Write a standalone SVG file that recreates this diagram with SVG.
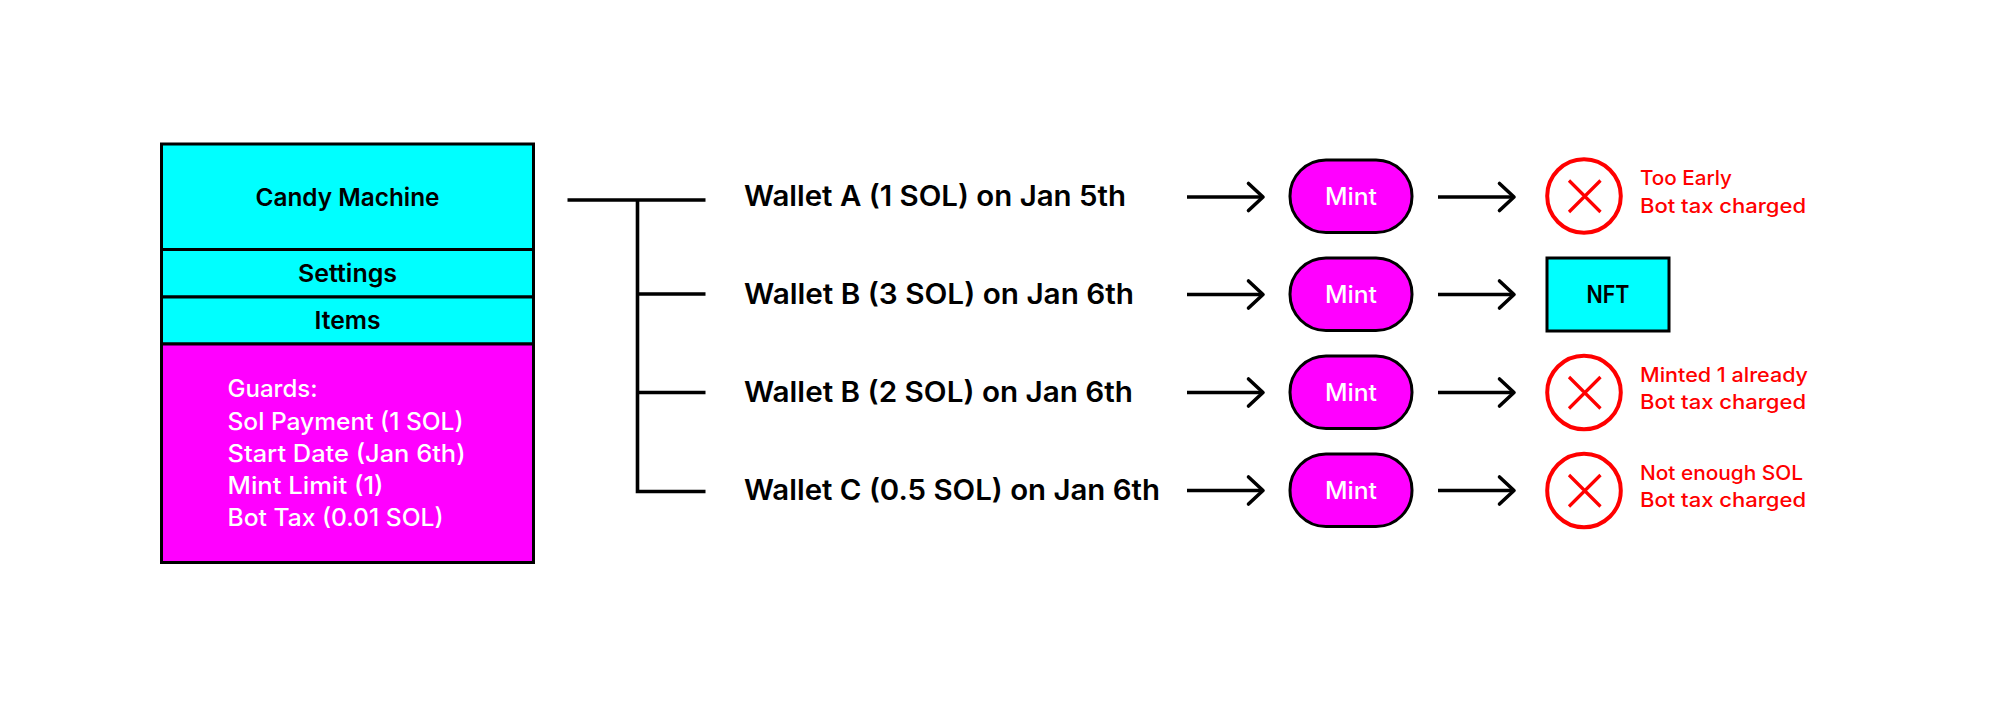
<svg xmlns="http://www.w3.org/2000/svg" width="1999" height="709" viewBox="0 0 1999 709">
<defs>
<marker id="open" markerUnits="userSpaceOnUse" markerWidth="22" markerHeight="32" refX="17" refY="16" orient="auto" overflow="visible"><path d="M2.500 2.500L17 16L2.500 29.500" fill="none" stroke="#000" stroke-width="3.600" stroke-linecap="round" stroke-linejoin="round"/></marker>
</defs>
<style>
text{font-family:"Inter","Liberation Sans",sans-serif;font-weight:500}
.box{stroke:#000;stroke-width:3}
.c{fill:#0ff}.m{fill:#f0f}
.k{fill:#000;font-weight:600}.w{fill:#fff}.r{fill:#f00}
.mid{text-anchor:middle}
.t24{font-size:24.500px}.t23{font-size:24px}.t27{font-size:28px}.t19{font-size:20px}
.line{fill:none;stroke:#000;stroke-width:3.600}
.arrow{fill:none;stroke:#000;stroke-width:3.600;marker-end:url(#open)}
.pill{fill:#f0f;stroke:#000;stroke-width:3}
.circ{fill:#fff;stroke:#f00;stroke-width:4}
.x{fill:none;stroke:#f00;stroke-width:3.200}
</style>
<rect width="1999" height="709" fill="#fff"/>
<g id="candy-machine">
<rect class="box c" x="161.500" y="144" width="372" height="105.500"/>
<rect class="box c" x="161.500" y="249.500" width="372" height="47.500"/>
<rect class="box c" x="161.500" y="297" width="372" height="47"/>
<rect class="box m" x="161.500" y="344" width="372" height="218.500"/>
<text class="k mid t24" x="347.500" y="205.500" textLength="184" lengthAdjust="spacingAndGlyphs">Candy Machine</text>
<text class="k mid t24" x="347.500" y="282" textLength="99" lengthAdjust="spacingAndGlyphs">Settings</text>
<text class="k mid t24" x="347.500" y="329" textLength="66" lengthAdjust="spacingAndGlyphs">Items</text>
<text class="w t23" x="227.500" y="396.500" textLength="90" lengthAdjust="spacingAndGlyphs">Guards:</text>
<text class="w t23" x="227.500" y="429.500" textLength="236" lengthAdjust="spacingAndGlyphs">Sol Payment (1 SOL)</text>
<text class="w t23" x="227.500" y="461.500" textLength="238" lengthAdjust="spacingAndGlyphs">Start Date (Jan 6th)</text>
<text class="w t23" x="227.500" y="494" textLength="156" lengthAdjust="spacingAndGlyphs">Mint Limit (1)</text>
<text class="w t23" x="227.500" y="526" textLength="216" lengthAdjust="spacingAndGlyphs">Bot Tax (0.01 SOL)</text>
</g>
<g id="connectors">
<path class="line" d="M567.500 200H705.500M637.500 200V491.500H705.500M637.500 294H705.500M637.500 392.500H705.500"/>
<path class="arrow" d="M1187 197H1263"/>
<path class="arrow" d="M1187 294.500H1263"/>
<path class="arrow" d="M1187 392.500H1263"/>
<path class="arrow" d="M1187 490.500H1263"/>
<path class="arrow" d="M1438 197H1514"/>
<path class="arrow" d="M1438 294.500H1514"/>
<path class="arrow" d="M1438 392.500H1514"/>
<path class="arrow" d="M1438 490.500H1514"/>
</g>
<g id="wallet-a"><text class="k t27" x="744" y="206" textLength="382" lengthAdjust="spacingAndGlyphs">Wallet A (1 SOL) on Jan 5th</text></g>
<g id="wallet-b3"><text class="k t27" x="744" y="304" textLength="390" lengthAdjust="spacingAndGlyphs">Wallet B (3 SOL) on Jan 6th</text></g>
<g id="wallet-b2"><text class="k t27" x="744" y="402" textLength="389" lengthAdjust="spacingAndGlyphs">Wallet B (2 SOL) on Jan 6th</text></g>
<g id="wallet-c"><text class="k t27" x="744" y="500" textLength="416" lengthAdjust="spacingAndGlyphs">Wallet C (0.5 SOL) on Jan 6th</text></g>
<g id="mint-1"><rect class="pill" x="1290" y="160" width="122" height="72.500" rx="36"/><text class="w mid t23" x="1351" y="204.500" textLength="52" lengthAdjust="spacingAndGlyphs">Mint</text></g>
<g id="mint-2"><rect class="pill" x="1290" y="258" width="122" height="72.500" rx="36"/><text class="w mid t23" x="1351" y="302.500" textLength="52" lengthAdjust="spacingAndGlyphs">Mint</text></g>
<g id="mint-3"><rect class="pill" x="1290" y="356" width="122" height="72.500" rx="36"/><text class="w mid t23" x="1351" y="400.500" textLength="52" lengthAdjust="spacingAndGlyphs">Mint</text></g>
<g id="mint-4"><rect class="pill" x="1290" y="454" width="122" height="72.500" rx="36"/><text class="w mid t23" x="1351" y="498.500" textLength="52" lengthAdjust="spacingAndGlyphs">Mint</text></g>
<g id="fail-early">
<circle class="circ" cx="1584" cy="196" r="36.800"/><path class="x" d="M1569 180.500L1600.500 212M1600.500 180.500L1569 212"/>
<text class="r t19" x="1640" y="185" textLength="92" lengthAdjust="spacingAndGlyphs">Too Early</text>
<text class="r t19" x="1640" y="212.500" textLength="166" lengthAdjust="spacingAndGlyphs">Bot tax charged</text>
</g>
<g id="nft"><rect class="box c" x="1547" y="258" width="122" height="73"/><text class="k mid t23" x="1608" y="302.500" textLength="43" lengthAdjust="spacingAndGlyphs">NFT</text></g>
<g id="fail-limit">
<circle class="circ" cx="1584" cy="392.500" r="36.800"/><path class="x" d="M1569 377L1600.500 408.500M1600.500 377L1569 408.500"/>
<text class="r t19" x="1640" y="381.500" textLength="168" lengthAdjust="spacingAndGlyphs">Minted 1 already</text>
<text class="r t19" x="1640" y="408.500" textLength="166" lengthAdjust="spacingAndGlyphs">Bot tax charged</text>
</g>
<g id="fail-funds">
<circle class="circ" cx="1584" cy="490.500" r="36.800"/><path class="x" d="M1569 475L1600.500 506.500M1600.500 475L1569 506.500"/>
<text class="r t19" x="1640" y="479.500" textLength="163" lengthAdjust="spacingAndGlyphs">Not enough SOL</text>
<text class="r t19" x="1640" y="506.500" textLength="166" lengthAdjust="spacingAndGlyphs">Bot tax charged</text>
</g>
</svg>
